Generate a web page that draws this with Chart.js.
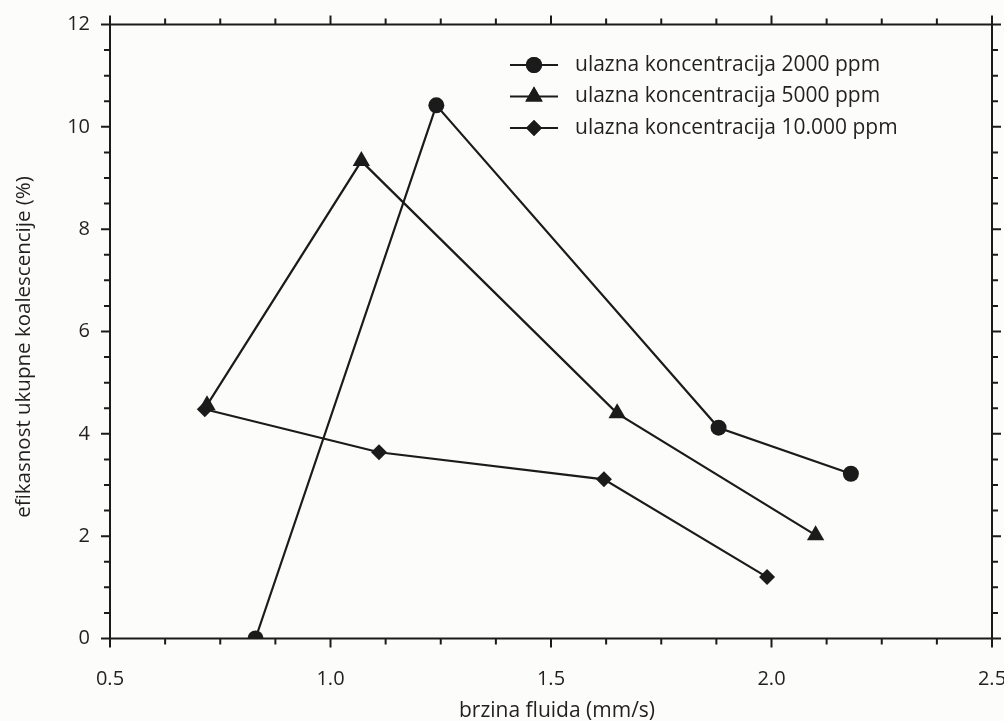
<!DOCTYPE html>
<html>
<head>
<meta charset="utf-8">
<script src="https://cdn.jsdelivr.net/npm/chart.js@4.4.1/dist/chart.umd.min.js"></script>
<style>
  html, body { margin: 0; padding: 0; background: #fcfcfa; }
  #wrap { width: 1004px; height: 721px; position: relative; }
</style>
</head>
<body>
<div id="wrap"><canvas id="c" width="1004" height="721"></canvas></div>
<script>
// ---- data ----
const seriesNames = ['ulazna koncentracija 2000 ppm', 'ulazna koncentracija 5000 ppm', 'ulazna koncentracija 10.000 ppm'];
const speed2000 = [0.83, 1.24, 1.88, 2.18];
const eff2000   = [0.0, 10.42, 4.12, 3.22];
const speed5000 = [0.72, 1.07, 1.65, 2.10];
const eff5000   = [4.56, 9.33, 4.40, 2.02];
const speed10000 = [0.715, 1.11, 1.62, 1.99];
const eff10000   = [4.48, 3.64, 3.11, 1.20];
const xTitle = 'brzina fluida (mm/s)';
const yTitle = 'efikasnost ukupne koalescencije (%)';
const xMin = 0.5, xMax = 2.5, xMinorStep = 0.125, xMajorStep = 0.5;
const yMin = 0, yMax = 12, yMinorStep = 0.5, yMajorStep = 2;

const FONT = '"Open Sans", "DejaVu Sans", sans-serif';
const INK = '#1b1b1b';
const TEXT = '#231f20';

function pts(xs, ys) { return xs.map((x, i) => ({x: x, y: ys[i]})); }

const styles = [
  {pointStyle: 'circle', radius: 8},
  {pointStyle: 'triangle', radius: 10},
  {pointStyle: 'rectRot', radius: 8}
];

const datasets = [
  {label: seriesNames[0], data: pts(speed2000, eff2000)},
  {label: seriesNames[1], data: pts(speed5000, eff5000)},
  {label: seriesNames[2], data: pts(speed10000, eff10000)}
].map((d, i) => Object.assign(d, {
  borderColor: INK, backgroundColor: INK, borderWidth: 2.2,
  pointStyle: styles[i].pointStyle, pointRadius: styles[i].radius,
  pointBorderWidth: 0, pointBackgroundColor: INK, pointBorderColor: INK,
  showLine: true, tension: 0, fill: false
}));

const frame = {
  id: 'frame',
  afterDraw(chart) {
    const ctx = chart.ctx;
    const a = chart.chartArea;
    const xs = chart.scales.x, ys = chart.scales.y;
    ctx.save();
    ctx.strokeStyle = INK;
    ctx.lineWidth = 2;
    ctx.strokeRect(a.left, a.top, a.right - a.left, a.bottom - a.top);
    ctx.beginPath();
    xs.ticks.forEach(t => {
      const px = xs.getPixelForValue(t.value);
      const major = Math.abs(t.value / xMajorStep - Math.round(t.value / xMajorStep)) < 1e-6;
      const len = major ? 9 : 6;
      ctx.moveTo(px, a.bottom); ctx.lineTo(px, a.bottom + len);
      ctx.moveTo(px, a.top); ctx.lineTo(px, a.top - len);
    });
    ys.ticks.forEach(t => {
      const py = ys.getPixelForValue(t.value);
      const major = Math.abs(t.value / yMajorStep - Math.round(t.value / yMajorStep)) < 1e-6;
      const len = major ? 9 : 6;
      ctx.moveTo(a.left, py); ctx.lineTo(a.left - len, py);
      ctx.moveTo(a.right, py); ctx.lineTo(a.right + len, py);
    });
    ctx.stroke();

    // axis titles
    ctx.fillStyle = TEXT;
    ctx.font = '21px ' + FONT;
    ctx.textAlign = 'center';
    ctx.textBaseline = 'alphabetic';
    ctx.fillText(xTitle, 557, 717);
    ctx.save();
    ctx.font = '20.5px ' + FONT;
    ctx.translate(30, 347);
    ctx.rotate(-Math.PI / 2);
    ctx.fillText(yTitle, 0, 0);
    ctx.restore();

    // legend
    const rowsY = [65, 96.5, 128];
    ctx.font = '21px ' + FONT;
    ctx.textAlign = 'left';
    ctx.textBaseline = 'middle';
    chart.data.datasets.forEach((ds, i) => {
      const y = rowsY[i];
      ctx.beginPath();
      ctx.strokeStyle = INK; ctx.lineWidth = 2;
      ctx.moveTo(510, y); ctx.lineTo(558, y);
      ctx.stroke();
      ctx.fillStyle = INK;
      Chart.helpers.drawPoint(ctx, {pointStyle: ds.pointStyle, radius: ds.pointRadius, borderWidth: 0, rotation: 0}, 534, y);
      ctx.fill();
      ctx.fillStyle = TEXT;
      ctx.fillText(ds.label, 575, y);
    });
    ctx.restore();
  }
};

new Chart(document.getElementById('c'), {
  type: 'scatter',
  data: {datasets: datasets},
  options: {
    responsive: false,
    animation: false,
    events: [],
    layout: {padding: {left: 0, right: 12, top: 24.5, bottom: 0}},
    plugins: {legend: {display: false}, tooltip: {enabled: false}},
    scales: {
      x: {
        type: 'linear', min: xMin, max: xMax,
        afterFit: s => { s.height = 82.5; s.paddingLeft = 0; s.paddingRight = 0; },
        border: {display: false},
        grid: {display: false, drawTicks: false},
        ticks: {
          stepSize: xMinorStep, autoSkip: false, maxTicksLimit: 1000, maxRotation: 0,
          padding: 29, color: TEXT, font: {family: FONT, size: 20},
          callback: v => (Math.abs(v / xMajorStep - Math.round(v / xMajorStep)) < 1e-6 ? v.toFixed(1) : '')
        }
      },
      y: {
        type: 'linear', min: yMin, max: yMax,
        afterFit: s => { s.width = 110; s.paddingTop = 0; s.paddingBottom = 0; },
        border: {display: false},
        grid: {display: false, drawTicks: false},
        ticks: {
          stepSize: yMinorStep, autoSkip: false, maxTicksLimit: 1000,
          padding: 20, color: TEXT, font: {family: FONT, size: 20},
          callback: v => (Math.abs(v / yMajorStep - Math.round(v / yMajorStep)) < 1e-6 ? String(v) : '')
        }
      }
    }
  },
  plugins: [frame]
});
</script>
</body>
</html>
